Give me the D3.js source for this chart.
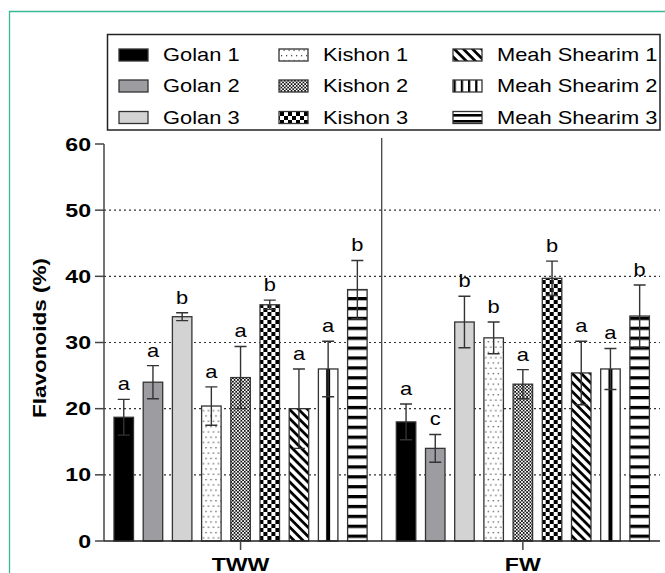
<!DOCTYPE html>
<html>
<head>
<meta charset="utf-8">
<script src="https://cdn.jsdelivr.net/npm/d3@7"></script>
<style>
	body { margin: 0; background: #fff; }
	svg { display: block; font-family: "Liberation Sans", Arial, sans-serif; }
</style>
</head>
<body>
<div id="main"></div>
<script>
var WIDTH = 665, HEIGHT = 573;

var groups = ["TWW", "FW"];
var series = ["Golan 1", "Golan 2", "Golan 3", "Kishon 1", "Kishon 2", "Kishon 3",
	"Meah Shearim 1", "Meah Shearim 2", "Meah Shearim 3"];
var twwMeans = [18.7, 24.0, 33.9, 20.4, 24.7, 35.7, 20.0, 26.0, 38.0];
var twwSd = [2.7, 2.5, 0.6, 2.9, 4.7, 0.7, 6.0, 4.2, 4.4];
var twwLetters = ["a", "a", "b", "a", "a", "b", "a", "a", "b"];
var fwMeans = [18.0, 14.0, 33.1, 30.7, 23.7, 39.7, 25.4, 26.0, 34.0];
var fwSd = [2.7, 2.1, 3.9, 2.4, 2.2, 2.6, 4.8, 3.1, 4.7];
var fwLetters = ["a", "c", "b", "b", "a", "b", "a", "a", "b"];
var yTicks = [0, 10, 20, 30, 40, 50, 60];

var STRETCH = 1.25;	// text in the picture is wider than Arial

var svg, defs, x0, x1, y;

function createCanvas() {
	svg = d3.select("#main").append("svg")
		.attr("width", WIDTH)
		.attr("height", HEIGHT);
	defs = svg.append("defs");

	// teal frame, top and left only
	svg.append("path")
		.attr("d", "M9.5," + HEIGHT + "V11.5H" + WIDTH)
		.attr("fill", "none")
		.attr("stroke", "#3ab795")
		.attr("stroke-width", 1.3);
}

function label(g, x, yy, txt, size, weight, anchor, rot) {
	return g.append("text")
		.attr("transform", "translate(" + x + "," + yy + ")" + (rot ? " rotate(" + rot + ")" : "") + " scale(" + STRETCH + ",1)")
		.attr("text-anchor", anchor || "start")
		.attr("font-size", size)
		.attr("font-weight", weight || "normal")
		.attr("fill", "#000")
		.text(txt);
}

function makePatterns() {
	var p;
	// Kishon 1: sparse dots
	p = defs.append("pattern").attr("id", "p3").attr("patternUnits", "userSpaceOnUse")
		.attr("width", 5).attr("height", 10.6);
	p.append("rect").attr("width", 5).attr("height", 10.6).attr("fill", "#fff");
	p.append("rect").attr("x", 1).attr("y", 2).attr("width", 1.2).attr("height", 1.2).attr("fill", "#333");
	p.append("rect").attr("x", 3.5).attr("y", 7.3).attr("width", 1.2).attr("height", 1.2).attr("fill", "#333");

	// Kishon 2: fine checker
	p = defs.append("pattern").attr("id", "p4").attr("patternUnits", "userSpaceOnUse")
		.attr("width", 3.4).attr("height", 3.4);
	p.append("rect").attr("width", 3.4).attr("height", 3.4).attr("fill", "#fff");
	p.append("rect").attr("width", 1.7).attr("height", 1.7).attr("fill", "#111");
	p.append("rect").attr("x", 1.7).attr("y", 1.7).attr("width", 1.7).attr("height", 1.7).attr("fill", "#111");

	// Kishon 3: large checker
	p = defs.append("pattern").attr("id", "p5").attr("patternUnits", "userSpaceOnUse")
		.attr("width", 8).attr("height", 8);
	p.append("rect").attr("width", 8).attr("height", 8).attr("fill", "#fff");
	p.append("rect").attr("width", 4).attr("height", 4).attr("fill", "#000");
	p.append("rect").attr("x", 4).attr("y", 4).attr("width", 4).attr("height", 4).attr("fill", "#000");

	// Meah Shearim 1: diagonal stripes
	p = defs.append("pattern").attr("id", "p6").attr("patternUnits", "userSpaceOnUse")
		.attr("width", 6.4).attr("height", 6.4)
		.attr("patternTransform", "rotate(45)");
	p.append("rect").attr("width", 6.4).attr("height", 6.4).attr("fill", "#fff");
	p.append("rect").attr("width", 6.4).attr("height", 2.8).attr("fill", "#000");

	// Meah Shearim 2: one thick line down the middle of the bar
	p = defs.append("pattern").attr("id", "p7").attr("patternUnits", "objectBoundingBox")
		.attr("width", 1).attr("height", 1);
	p.append("rect").attr("width", 100).attr("height", 1000).attr("fill", "#fff");
	p.append("rect").attr("x", x1.bandwidth() / 2 - 2).attr("width", 4).attr("height", 1000).attr("fill", "#000");

	// legend version: several thin lines
	p = defs.append("pattern").attr("id", "p7l").attr("patternUnits", "userSpaceOnUse")
		.attr("width", 7.2).attr("height", 12);
	p.append("rect").attr("width", 7.2).attr("height", 12).attr("fill", "#fff");
	p.append("rect").attr("x", 0).attr("width", 2.2).attr("height", 12).attr("fill", "#000");

	// Meah Shearim 3: horizontal stripes
	p = defs.append("pattern").attr("id", "p8").attr("patternUnits", "userSpaceOnUse")
		.attr("width", 10).attr("height", 9.9);
	p.append("rect").attr("width", 10).attr("height", 9.9).attr("fill", "#fff");
	p.append("rect").attr("width", 10).attr("height", 3.3).attr("fill", "#000");

	p = defs.append("pattern").attr("id", "p8l").attr("patternUnits", "userSpaceOnUse")
		.attr("width", 10).attr("height", 6);
	p.append("rect").attr("width", 10).attr("height", 6).attr("fill", "#fff");
	p.append("rect").attr("width", 10).attr("height", 2.6).attr("fill", "#000");
}

var fills = ["#000", "#9d9da1", "#d3d3d3", "url(#p3)", "url(#p4)", "url(#p5)", "url(#p6)", "url(#p7)", "url(#p8)"];
var legendFills = ["#000", "#9d9da1", "#d3d3d3", "url(#p3)", "url(#p4)", "url(#p5)", "url(#p6)", "url(#p7l)", "url(#p8l)"];

function drawChart() {
	y = d3.scaleLinear().domain([0, 60]).range([541, 144]);
	x0 = d3.scaleBand().domain(groups).range([99.4, 664]);
	x1 = d3.scaleBand().domain(series).range([0, x0.bandwidth()])
		.paddingInner(0.332).paddingOuter(0.5);

	makePatterns();

	var plot = svg.append("g");

	// dotted grid
	plot.selectAll(".grid")
		.data(yTicks.filter(function(d) { return d > 0 && d < 60; }))
		.enter().append("line")
			.attr("x1", 104).attr("x2", 660)
			.attr("y1", function(d) { return y(d); })
			.attr("y2", function(d) { return y(d); })
			.attr("stroke", "#333")
			.attr("stroke-width", 1.2)
			.attr("stroke-dasharray", "2,3");

	// separator between groups
	plot.append("line")
		.attr("x1", x0("FW")).attr("x2", x0("FW"))
		.attr("y1", 138).attr("y2", y(0))
		.attr("stroke", "#444").attr("stroke-width", 1.3);

	var data = [
		{ g: "TWW", means: twwMeans, sd: twwSd, letters: twwLetters },
		{ g: "FW", means: fwMeans, sd: fwSd, letters: fwLetters }
	];

	data.forEach(function(grp) {
		var rows = series.map(function(s, i) {
			return { s: s, i: i, v: grp.means[i], sd: grp.sd[i], l: grp.letters[i] };
		});
		var g = plot.append("g").attr("transform", "translate(" + x0(grp.g) + ",0)");

		g.selectAll(".bar")
			.data(rows)
			.enter().append("rect")
				.attr("x", function(d) { return x1(d.s); })
				.attr("y", function(d) { return y(d.v); })
				.attr("width", x1.bandwidth())
				.attr("height", function(d) { return y(0) - y(d.v); })
				.attr("fill", function(d) { return fills[d.i]; })
				.attr("stroke", "#333")
				.attr("stroke-width", 1.3);

		var cx = function(d) { return x1(d.s) + x1.bandwidth() / 2; };

		// error bars
		g.selectAll(".err")
			.data(rows)
			.enter().append("path")
				.attr("d", function(d) {
					var c = cx(d), t = y(d.v + d.sd), b = y(d.v - d.sd);
					return "M" + c + "," + b + "V" + t +
						"M" + (c - 6) + "," + t + "H" + (c + 6) +
						"M" + (c - 6) + "," + b + "H" + (c + 6);
				})
				.attr("fill", "none")
				.attr("stroke", "#333")
				.attr("stroke-width", 1.4);

		rows.forEach(function(d) {
			label(g, cx(d), y(d.v + d.sd) - 9, d.l, 17.5, "normal", "middle");
		});
	});

	// axes
	plot.append("line")
		.attr("x1", 104).attr("x2", 104).attr("y1", y(60)).attr("y2", y(0))
		.attr("stroke", "#444").attr("stroke-width", 1.5);
	plot.append("line")
		.attr("x1", 104).attr("x2", 660).attr("y1", y(0)).attr("y2", y(0))
		.attr("stroke", "#222").attr("stroke-width", 1.5);

	plot.selectAll(".ytick")
		.data(yTicks)
		.enter().append("line")
			.attr("x1", 95).attr("x2", 104)
			.attr("y1", function(d) { return y(d); })
			.attr("y2", function(d) { return y(d); })
			.attr("stroke", "#444").attr("stroke-width", 1.5);

	yTicks.forEach(function(d) {
		label(plot, 91, y(d) + 6.5, d, 18.5, "bold", "end");
	});

	groups.forEach(function(gname) {
		var c = x0(gname) + x0.bandwidth() / 2;
		plot.append("line")
			.attr("x1", c).attr("x2", c).attr("y1", y(0)).attr("y2", y(0) + 9)
			.attr("stroke", "#444").attr("stroke-width", 1.5);
		label(plot, c, 571, gname, 18.5, "bold", "middle");
	});

	label(plot, 46, 338, "Flavonoids (%)", 18, "bold", "middle", -90);
}

function drawLegend() {
	var lg = svg.append("g");
	lg.append("rect")
		.attr("x", 107.5).attr("y", 34.5)
		.attr("width", 552.5).attr("height", 95.5)
		.attr("fill", "#fff")
		.attr("stroke", "#222")
		.attr("stroke-width", 1.5);

	var colX = [119, 279, 453];
	var rowY = [55, 86, 117.5];

	series.forEach(function(s, i) {
		var cx = colX[Math.floor(i / 3)], cy = rowY[i % 3];
		lg.append("rect")
			.attr("x", cx).attr("y", cy - 6)
			.attr("width", 29).attr("height", 12)
			.attr("fill", legendFills[i])
			.attr("stroke", "#333")
			.attr("stroke-width", 1.3);
		label(lg, cx + 44, cy + 6, s, 17.5, "normal", "start");
	});
}

createCanvas();
drawChart();
drawLegend();
</script>
</body>
</html>
